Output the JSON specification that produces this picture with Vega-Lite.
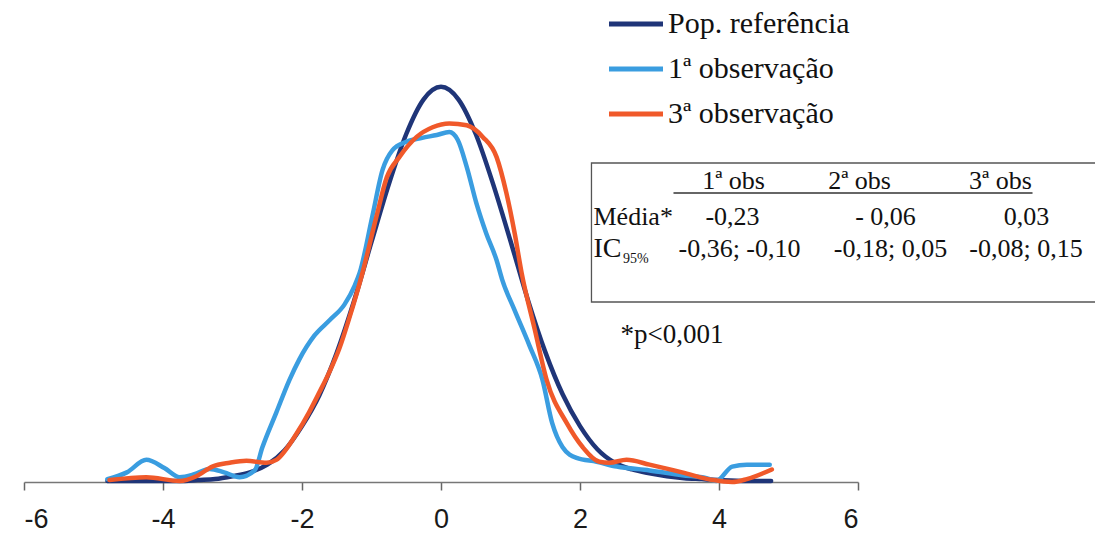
{
  "$schema": "https://vega.github.io/schema/vega-lite/v6.json",
  "width": 834,
  "height": 482,
  "autosize": {"type": "none"},
  "padding": {"left": 24, "right": 237, "top": 0, "bottom": 53},
  "background": "white",
  "config": {"view": {"stroke": null}},
  "datasets": {
    "curves": [
        {"s": "Pop. referência", "x": -4.8, "y": 0.001},
        {"s": "Pop. referência", "x": -4.25, "y": 0.001},
        {"s": "Pop. referência", "x": -3.75, "y": 0.001},
        {"s": "Pop. referência", "x": -3.5, "y": 0.002},
        {"s": "Pop. referência", "x": -3.25, "y": 0.003},
        {"s": "Pop. referência", "x": -3.0, "y": 0.006},
        {"s": "Pop. referência", "x": -2.75, "y": 0.010},
        {"s": "Pop. referência", "x": -2.5, "y": 0.018},
        {"s": "Pop. referência", "x": -2.25, "y": 0.033},
        {"s": "Pop. referência", "x": -2.0, "y": 0.058},
        {"s": "Pop. referência", "x": -1.75, "y": 0.090},
        {"s": "Pop. referência", "x": -1.5, "y": 0.134},
        {"s": "Pop. referência", "x": -1.25, "y": 0.188},
        {"s": "Pop. referência", "x": -1.0, "y": 0.249},
        {"s": "Pop. referência", "x": -0.75, "y": 0.309},
        {"s": "Pop. referência", "x": -0.5, "y": 0.361},
        {"s": "Pop. referência", "x": -0.25, "y": 0.397},
        {"s": "Pop. referência", "x": 0, "y": 0.410},
        {"s": "Pop. referência", "x": 0.25, "y": 0.397},
        {"s": "Pop. referência", "x": 0.5, "y": 0.361},
        {"s": "Pop. referência", "x": 0.75, "y": 0.309},
        {"s": "Pop. referência", "x": 1.0, "y": 0.250},
        {"s": "Pop. referência", "x": 1.25, "y": 0.189},
        {"s": "Pop. referência", "x": 1.5, "y": 0.135},
        {"s": "Pop. referência", "x": 1.75, "y": 0.091},
        {"s": "Pop. referência", "x": 2.0, "y": 0.058},
        {"s": "Pop. referência", "x": 2.25, "y": 0.034},
        {"s": "Pop. referência", "x": 2.5, "y": 0.020},
        {"s": "Pop. referência", "x": 2.75, "y": 0.013},
        {"s": "Pop. referência", "x": 3.0, "y": 0.009},
        {"s": "Pop. referência", "x": 3.25, "y": 0.006},
        {"s": "Pop. referência", "x": 3.5, "y": 0.004},
        {"s": "Pop. referência", "x": 3.75, "y": 0.003},
        {"s": "Pop. referência", "x": 4.0, "y": 0.002},
        {"s": "Pop. referência", "x": 4.4, "y": 0.001},
        {"s": "Pop. referência", "x": 4.75, "y": 0.001},

        {"s": "1ª observação", "x": -4.80, "y": 0.003},
        {"s": "1ª observação", "x": -4.52, "y": 0.010},
        {"s": "1ª observação", "x": -4.24, "y": 0.023},
        {"s": "1ª observação", "x": -3.98, "y": 0.0145},
        {"s": "1ª observação", "x": -3.76, "y": 0.005},
        {"s": "1ª observação", "x": -3.55, "y": 0.008},
        {"s": "1ª observação", "x": -3.33, "y": 0.0135},
        {"s": "1ª observação", "x": -3.12, "y": 0.010},
        {"s": "1ª observação", "x": -2.90, "y": 0.005},
        {"s": "1ª observação", "x": -2.68, "y": 0.012},
        {"s": "1ª observação", "x": -2.57, "y": 0.036},
        {"s": "1ª observação", "x": -2.37, "y": 0.072},
        {"s": "1ª observação", "x": -2.18, "y": 0.106},
        {"s": "1ª observação", "x": -2.04, "y": 0.127},
        {"s": "1ª observação", "x": -1.82, "y": 0.152},
        {"s": "1ª observação", "x": -1.60, "y": 0.168},
        {"s": "1ª observação", "x": -1.39, "y": 0.184},
        {"s": "1ª observação", "x": -1.24, "y": 0.204},
        {"s": "1ª observação", "x": -1.17, "y": 0.217},
        {"s": "1ª observação", "x": -0.99, "y": 0.275},
        {"s": "1ª observação", "x": -0.84, "y": 0.324},
        {"s": "1ª observação", "x": -0.70, "y": 0.344},
        {"s": "1ª observação", "x": -0.50, "y": 0.353},
        {"s": "1ª observação", "x": -0.27, "y": 0.357},
        {"s": "1ª observação", "x": -0.06, "y": 0.360},
        {"s": "1ª observação", "x": 0.12, "y": 0.363},
        {"s": "1ª observação", "x": 0.24, "y": 0.355},
        {"s": "1ª observação", "x": 0.37, "y": 0.327},
        {"s": "1ª observação", "x": 0.51, "y": 0.289},
        {"s": "1ª observação", "x": 0.65, "y": 0.258},
        {"s": "1ª observação", "x": 0.80, "y": 0.230},
        {"s": "1ª observação", "x": 0.88, "y": 0.210},
        {"s": "1ª observação", "x": 1.06, "y": 0.178},
        {"s": "1ª observação", "x": 1.27, "y": 0.142},
        {"s": "1ª observação", "x": 1.46, "y": 0.106},
        {"s": "1ª observação", "x": 1.60, "y": 0.061},
        {"s": "1ª observação", "x": 1.75, "y": 0.036},
        {"s": "1ª observação", "x": 1.95, "y": 0.025},
        {"s": "1ª observação", "x": 2.24, "y": 0.021},
        {"s": "1ª observação", "x": 2.53, "y": 0.016},
        {"s": "1ª observação", "x": 3.00, "y": 0.012},
        {"s": "1ª observação", "x": 3.47, "y": 0.007},
        {"s": "1ª observação", "x": 3.82, "y": 0.004},
        {"s": "1ª observação", "x": 3.96, "y": 0.001},
        {"s": "1ª observação", "x": 4.19, "y": 0.016},
        {"s": "1ª observação", "x": 4.40, "y": 0.018},
        {"s": "1ª observação", "x": 4.73, "y": 0.018},

        {"s": "3ª observação", "x": -4.77, "y": 0.002},
        {"s": "3ª observação", "x": -4.24, "y": 0.005},
        {"s": "3ª observação", "x": -3.76, "y": 0.001},
        {"s": "3ª observação", "x": -3.52, "y": 0.006},
        {"s": "3ª observação", "x": -3.29, "y": 0.016},
        {"s": "3ª observação", "x": -3.04, "y": 0.020},
        {"s": "3ª observação", "x": -2.80, "y": 0.022},
        {"s": "3ª observação", "x": -2.51, "y": 0.020},
        {"s": "3ª observação", "x": -2.37, "y": 0.023},
        {"s": "3ª observação", "x": -2.08, "y": 0.050},
        {"s": "3ª observação", "x": -1.90, "y": 0.072},
        {"s": "3ª observação", "x": -1.75, "y": 0.093},
        {"s": "3ª observação", "x": -1.60, "y": 0.115},
        {"s": "3ª observação", "x": -1.46, "y": 0.139},
        {"s": "3ª observação", "x": -1.32, "y": 0.170},
        {"s": "3ª observação", "x": -1.13, "y": 0.217},
        {"s": "3ª observação", "x": -0.93, "y": 0.275},
        {"s": "3ª observação", "x": -0.78, "y": 0.316},
        {"s": "3ª observação", "x": -0.60, "y": 0.337},
        {"s": "3ª observação", "x": -0.35, "y": 0.358},
        {"s": "3ª observação", "x": -0.12, "y": 0.368},
        {"s": "3ª observação", "x": 0.12, "y": 0.372},
        {"s": "3ª observação", "x": 0.37, "y": 0.370},
        {"s": "3ª observação", "x": 0.60, "y": 0.358},
        {"s": "3ª observação", "x": 0.80, "y": 0.337},
        {"s": "3ª observação", "x": 0.94, "y": 0.300},
        {"s": "3ª observação", "x": 1.06, "y": 0.258},
        {"s": "3ª observação", "x": 1.16, "y": 0.217},
        {"s": "3ª observação", "x": 1.35, "y": 0.158},
        {"s": "3ª observação", "x": 1.52, "y": 0.106},
        {"s": "3ª observação", "x": 1.81, "y": 0.061},
        {"s": "3ª observação", "x": 2.04, "y": 0.036},
        {"s": "3ª observação", "x": 2.28, "y": 0.021},
        {"s": "3ª observação", "x": 2.42, "y": 0.020},
        {"s": "3ª observação", "x": 2.67, "y": 0.023},
        {"s": "3ª observação", "x": 3.00, "y": 0.018},
        {"s": "3ª observação", "x": 3.47, "y": 0.010},
        {"s": "3ª observação", "x": 3.91, "y": 0.002},
        {"s": "3ª observação", "x": 4.19, "y": 0.000},
        {"s": "3ª observação", "x": 4.40, "y": 0.003},
        {"s": "3ª observação", "x": 4.76, "y": 0.013}
    ]
  },
  "layer": [
    {
      "data": {"name": "curves"},
      "transform": [{"filter": "datum.s == 'Pop. referência'"}],
      "mark": {"type": "line", "strokeWidth": 4.5, "interpolate": "monotone", "strokeCap": "round", "strokeJoin": "round"},
      "encoding": {
        "x": {
          "field": "x", "type": "quantitative",
          "scale": {"domain": [-6, 6], "nice": false, "zero": false},
          "axis": {
            "title": null, "values": [-6, -4, -2, 0, 2, 4, 6], "grid": false,
            "labelExpr": "'' + datum.value",
            "labelFont": "Liberation Sans", "labelFontSize": 27, "labelColor": "#1a1a1a",
            "labelPadding": 16, "tickSize": 8, "tickColor": "#666666", "tickWidth": 1.5,
            "domainColor": "#777777", "domainWidth": 1.5
          }
        },
        "y": {"field": "y", "type": "quantitative", "scale": {"domain": [0, 0.5]}, "axis": null},
        "color": {
          "field": "s", "type": "nominal",
          "scale": {"domain": ["Pop. referência", "1ª observação", "3ª observação"], "range": ["#1f3578", "#3a9de0", "#f0592a"]},
          "legend": {
            "title": null, "orient": "none", "legendX": 582.5, "legendY": -5.5,
            "symbolType": "stroke", "symbolSize": 2916, "symbolStrokeWidth": 5,
            "labelFont": "Liberation Serif", "labelFontSize": 30, "labelColor": "#111111",
            "labelOffset": 2.5, "labelLimit": 400, "rowPadding": -13, "padding": 0
          }
        }
      }
    },
    {
      "data": {"name": "curves"},
      "transform": [{"filter": "datum.s == '1ª observação'"}],
      "mark": {"type": "line", "strokeWidth": 4.5, "interpolate": "monotone", "strokeCap": "round", "strokeJoin": "round"},
      "encoding": {
        "x": {"field": "x", "type": "quantitative"},
        "y": {"field": "y", "type": "quantitative"},
        "color": {"field": "s", "type": "nominal"}
      }
    },
    {
      "data": {"name": "curves"},
      "transform": [{"filter": "datum.s == '3ª observação'"}],
      "mark": {"type": "line", "strokeWidth": 4.5, "interpolate": "monotone", "strokeCap": "round", "strokeJoin": "round"},
      "encoding": {
        "x": {"field": "x", "type": "quantitative"},
        "y": {"field": "y", "type": "quantitative"},
        "color": {"field": "s", "type": "nominal"}
      }
    },
    {
      "data": {"values": [{}]},
      "mark": {"type": "rect", "fillOpacity": 0, "stroke": "#555555", "strokeWidth": 1.3},
      "encoding": {"x": {"datum": 2.165}, "x2": {"datum": 9.5}, "y": {"datum": 0.3309}, "y2": {"datum": 0.1867}}
    },
    {
      "data": {"values": [{}]},
      "mark": {"type": "rule", "stroke": "#333333", "strokeWidth": 1.5},
      "encoding": {"x": {"datum": 3.345}, "x2": {"datum": 8.511}, "y": {"datum": 0.2998}}
    },
    {
      "data": {"values": [{}]},
      "mark": {"type": "text", "text": "1ª obs", "font": "Liberation Serif", "fontSize": 26, "align": "center", "baseline": "alphabetic", "color": "#111111"},
      "encoding": {"x": {"datum": 4.209}, "y": {"datum": 0.3039}}
    },
    {
      "data": {"values": [{}]},
      "mark": {"type": "text", "text": "2ª obs", "font": "Liberation Serif", "fontSize": 26, "align": "center", "baseline": "alphabetic", "color": "#111111"},
      "encoding": {"x": {"datum": 6.022}, "y": {"datum": 0.3039}}
    },
    {
      "data": {"values": [{}]},
      "mark": {"type": "text", "text": "3ª obs", "font": "Liberation Serif", "fontSize": 26, "align": "center", "baseline": "alphabetic", "color": "#111111"},
      "encoding": {"x": {"datum": 8.05}, "y": {"datum": 0.3039}}
    },
    {
      "data": {"values": [{}]},
      "mark": {"type": "text", "text": "Média*", "font": "Liberation Serif", "fontSize": 26, "align": "left", "baseline": "alphabetic", "color": "#111111"},
      "encoding": {"x": {"datum": 2.194}, "y": {"datum": 0.2666}}
    },
    {
      "data": {"values": [{}]},
      "mark": {"type": "text", "text": "-0,23", "font": "Liberation Serif", "fontSize": 26, "align": "center", "baseline": "alphabetic", "color": "#111111"},
      "encoding": {"x": {"datum": 4.194}, "y": {"datum": 0.2666}}
    },
    {
      "data": {"values": [{}]},
      "mark": {"type": "text", "text": "- 0,06", "font": "Liberation Serif", "fontSize": 26, "align": "center", "baseline": "alphabetic", "color": "#111111"},
      "encoding": {"x": {"datum": 6.396}, "y": {"datum": 0.2666}}
    },
    {
      "data": {"values": [{}]},
      "mark": {"type": "text", "text": "0,03", "font": "Liberation Serif", "fontSize": 26, "align": "center", "baseline": "alphabetic", "color": "#111111"},
      "encoding": {"x": {"datum": 8.424}, "y": {"datum": 0.2666}}
    },
    {
      "data": {"values": [{}]},
      "mark": {"type": "text", "text": "IC", "font": "Liberation Serif", "fontSize": 28, "align": "left", "baseline": "alphabetic", "color": "#111111"},
      "encoding": {"x": {"datum": 2.194}, "y": {"datum": 0.2334}}
    },
    {
      "data": {"values": [{}]},
      "mark": {"type": "text", "text": "95%", "font": "Liberation Serif", "fontSize": 14, "align": "left", "baseline": "alphabetic", "color": "#111111"},
      "encoding": {"x": {"datum": 2.62}, "y": {"datum": 0.2272}}
    },
    {
      "data": {"values": [{}]},
      "mark": {"type": "text", "text": "-0,36; -0,10", "font": "Liberation Serif", "fontSize": 26, "align": "center", "baseline": "alphabetic", "color": "#111111"},
      "encoding": {"x": {"datum": 4.295}, "y": {"datum": 0.2334}}
    },
    {
      "data": {"values": [{}]},
      "mark": {"type": "text", "text": "-0,18; 0,05", "font": "Liberation Serif", "fontSize": 26, "align": "center", "baseline": "alphabetic", "color": "#111111"},
      "encoding": {"x": {"datum": 6.468}, "y": {"datum": 0.2334}}
    },
    {
      "data": {"values": [{}]},
      "mark": {"type": "text", "text": "-0,08; 0,15", "font": "Liberation Serif", "fontSize": 26, "align": "center", "baseline": "alphabetic", "color": "#111111"},
      "encoding": {"x": {"datum": 8.417}, "y": {"datum": 0.2334}}
    },
    {
      "data": {"values": [{}]},
      "mark": {"type": "text", "text": "*p<0,001", "font": "Liberation Serif", "fontSize": 27, "align": "left", "baseline": "alphabetic", "color": "#111111"},
      "encoding": {"x": {"datum": 2.583}, "y": {"datum": 0.1442}}
    }
  ]
}
